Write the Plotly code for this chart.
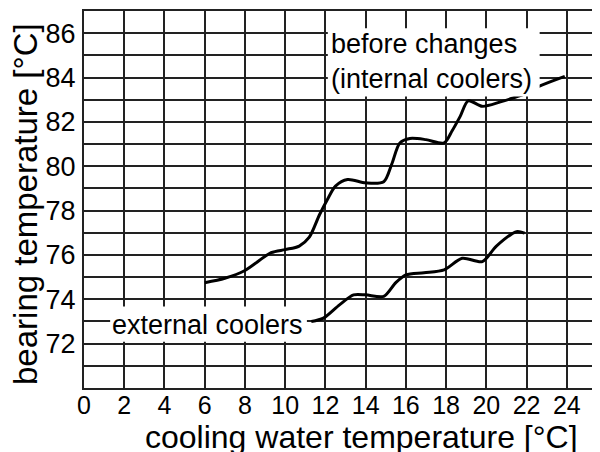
import plotly.graph_objects as go

# Data
before_x = [6.0, 7.0, 8.0, 9.3, 10.0, 10.7, 11.2, 11.7, 12.1, 12.5, 13.1, 14.0, 14.9, 15.3, 15.7, 16.2,
            17.0, 17.9, 18.3, 18.7, 19.1, 19.8, 20.7, 21.4, 22.0, 22.7, 23.9]
before_y = [74.75, 74.95, 75.3, 76.1, 76.24, 76.4, 76.8, 77.8, 78.5, 79.1, 79.4, 79.25, 79.3, 80.1, 81.05, 81.25,
            81.2, 81.05, 81.6, 82.25, 82.95, 82.7, 82.9, 83.1, 83.3, 83.63, 84.05]

external_x = [11.3, 11.9, 12.7, 13.4, 14.0, 14.9, 15.5, 16.0, 16.9, 17.9, 18.8, 19.8, 20.5, 21.5, 21.9]
external_y = [73.0, 73.15, 73.75, 74.2, 74.2, 74.13, 74.75, 75.1, 75.2, 75.33, 75.85, 75.7, 76.4, 77.05, 76.98]

x_tick_vals = [0, 2, 4, 6, 8, 10, 12, 14, 16, 18, 20, 22, 24]
y_tick_vals = [72, 74, 76, 78, 80, 82, 84, 86]

label_before = "before changes<br>(internal coolers)"
label_external = "external coolers"
x_title = "cooling water temperature [°C]"
y_title = "bearing temperature [°C]"

FONT = "Liberation Sans, Arial, sans-serif"
GRID = "#222222"
OFF = 8  # default page body margin
W, H = 600 - OFF, 452 - OFF
PL, PT, PW, PH = 84 - OFF, 11 - OFF, 516, 377  # plot area in figure pixels

fig = go.Figure()
fig.add_trace(go.Scatter(x=before_x, y=before_y, mode="lines",
                         line=dict(color="black", width=3, shape="spline", smoothing=0.8),
                         showlegend=False, hoverinfo="skip"))
fig.add_trace(go.Scatter(x=external_x, y=external_y, mode="lines",
                         line=dict(color="black", width=3, shape="spline", smoothing=0.8),
                         showlegend=False, hoverinfo="skip"))

# white label boxes hiding grid and curves
fig.add_shape(type="rect", xref="x", yref="y", x0=12.12, x1=22.65, y0=83.15, y1=86.22,
              fillcolor="white", line=dict(width=0), layer="above")
fig.add_shape(type="rect", xref="x", yref="y", x0=1.3, x1=11.08, y0=72.09, y1=73.67,
              fillcolor="white", line=dict(width=0), layer="above")

fig.add_annotation(x=12.2, y=84.71, xref="x", yref="y", text=label_before, showarrow=False,
                   xanchor="left", yanchor="middle", align="left",
                   font=dict(family=FONT, size=27, color="black"))
fig.add_annotation(x=1.3, y=72.82, xref="x", yref="y", text=label_external, showarrow=False,
                   xanchor="left", yanchor="middle", align="left",
                   font=dict(family=FONT, size=27, color="black"))

# axis titles as annotations for exact placement (page pixel coords converted)
fig.add_annotation(x=(361 - 84) / PW, y=(388 - 437) / PH, xref="paper", yref="paper", text=x_title,
                   showarrow=False, xanchor="center", yanchor="middle",
                   font=dict(family=FONT, size=32, color="black"))
fig.add_annotation(x=(25 - 84) / PW, y=(388 - 204) / PH, xref="paper", yref="paper", text=y_title,
                   showarrow=False, xanchor="center", yanchor="middle", textangle=-90,
                   font=dict(family=FONT, size=33, color="black"))

fig.update_layout(
    width=W, height=H,
    margin=dict(l=PL, r=W - PL - PW, t=PT, b=H - PT - PH, autoexpand=False),
    paper_bgcolor="white", plot_bgcolor="white",
    font=dict(family=FONT, color="black"),
    xaxis=dict(range=[0, 25.65], tickvals=x_tick_vals, showgrid=True, gridcolor=GRID, gridwidth=2,
               showline=True, linecolor=GRID, linewidth=2, mirror=True, zeroline=False, automargin=False,
               ticks="", ticklabelstandoff=-6, tickfont=dict(family=FONT, size=25, color="black")),
    yaxis=dict(range=[70, 87], tickvals=y_tick_vals, showgrid=True, gridcolor=GRID, gridwidth=2,
               minor=dict(dtick=1, tick0=70, showgrid=True, gridcolor=GRID, gridwidth=2),
               showline=True, linecolor=GRID, linewidth=2, zeroline=False, automargin=False,
               ticks="", ticklabelstandoff=1, tickfont=dict(family=FONT, size=27, color="black")),
)

fig.write_html("out.html")
